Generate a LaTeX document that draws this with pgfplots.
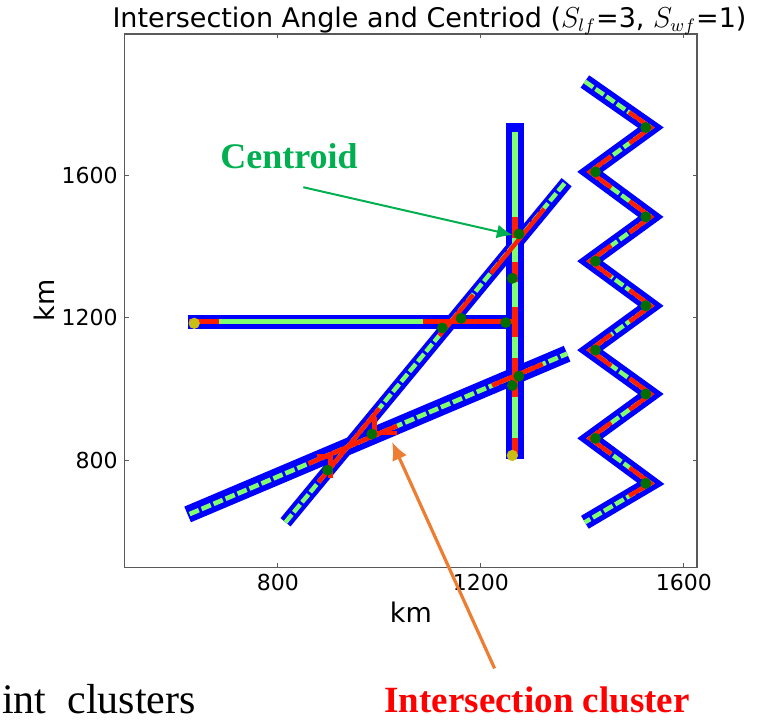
\documentclass[border=0pt]{standalone}
\usepackage{pgfplots}
\pgfplotsset{compat=1.18}
\usepackage{fontspec}
\setmainfont{DejaVu Sans}
\newfontfamily\tnr{Liberation Serif}
\usetikzlibrary{arrows.meta}

\definecolor{jetblue}{RGB}{0,0,255}
\definecolor{jetgreen}{RGB}{130,255,110}
\definecolor{jetred}{RGB}{255,30,0}
\definecolor{cgreen}{RGB}{0,110,0}
\definecolor{cyellow}{RGB}{200,190,20}
\definecolor{pptgreen}{RGB}{0,176,80}
\definecolor{pptorange}{RGB}{237,125,49}

\begin{document}
\begin{tikzpicture}
\begin{axis}[
  at={(0,0)}, anchor=south west,
  width=286.15pt, height=266.65pt, scale only axis,
  xmin=498, xmax=1626, ymin=502, ymax=1995,
  xtick={800,1200,1600}, ytick={800,1200,1600},
  tick align=inside, major tick length=2pt,
  axis line style={black!65, line width=0.6pt},
  tick style={black!65, line width=0.5pt},
  ticklabel style={font=\fontsize{11}{13}\selectfont},
  /pgf/number format/assume math mode=true,
  /pgf/number format/1000 sep={},
  xlabel={km}, ylabel={km},
  label style={font=\fontsize{13.5}{16}\selectfont},
  xlabel style={at={(axis description cs:0.5,-0.1026)}, anchor=base},
  ylabel style={at={(axis description cs:-0.1218,0.5)}, anchor=base},
  clip=false,
  unbounded coords=jump,
]
% blue bands
\addplot[jetblue, line width=9pt, no markers] coordinates {(1268,806) (1268,1745)};
\addplot[jetblue, line width=7pt, no markers] coordinates {(622,1190) (1268,1190)};
\addplot[jetblue, line width=6.5pt, no markers] coordinates {(815,628) (1369,1580)};
\addplot[jetblue, line width=8.5pt, no markers] coordinates {(622,650) (1370,1100)};
\addplot[jetblue, line width=7.5pt, no markers, line join=miter] coordinates {
  (1405,1862) (1535,1733) (1415,1609) (1535,1483) (1415,1359) (1535,1234)
  (1415,1110) (1535,987) (1415,863) (1535,737) (1405,628)};

% inner lines
\addplot[jetgreen, line width=3pt, no markers] coordinates {(1267,810) (1267,1722)};
\addplot[jetgreen, line width=2.2pt, no markers] coordinates {(625,1190) (1268,1190)};
\addplot[jetgreen, line width=2.2pt, no markers, dash pattern=on 5pt off 1.5pt] coordinates {(815,628) (1369,1584)};
\addplot[jetgreen, line width=2.3pt, no markers, dash pattern=on 5pt off 1.5pt] coordinates {(626,651) (1370,1100)};
\addplot[jetgreen, line width=2.2pt, no markers, line join=miter, dash pattern=on 5pt off 1.5pt] coordinates {
  (1405,1862) (1535,1733) (1415,1609) (1535,1483) (1415,1359) (1535,1234)
  (1415,1110) (1535,987) (1415,863) (1535,737) (1405,628)};

% red parts of the inner lines
\addplot[jetred, line width=3pt, no markers] coordinates {
  (1267,810) (1267,863) (nan,nan) (1267,979) (1267,1087) (nan,nan)
  (1267,1147) (1267,1231) (nan,nan) (1267,1301) (1267,1357) (nan,nan)
  (1267,1423) (1267,1483)};
\addplot[jetred, line width=2.2pt, no markers] coordinates {
  (625,1190) (684,1190) (nan,nan) (1085,1190) (1268,1190)};
\addplot[jetred, line width=2.2pt, no markers] coordinates {
  (880,740) (1000,947) (nan,nan) (1118,1150) (1185,1265) (nan,nan)
  (1220,1325) (1325,1506)};
\addplot[jetred, line width=2.3pt, no markers] coordinates {
  (860,792) (1035,898) (nan,nan) (1222,1011) (1322,1071)};
\addplot[jetred, line width=2.4pt, no markers] coordinates {
  (877,812) (904,812) (904,752) (nan,nan) (990,922) (990,878) (1034,878)};
\addplot[jetred, line width=2.2pt, no markers, line join=miter] coordinates {
  (1492,1776) (1535,1733) (1493,1689) (nan,nan)
  (1457,1653) (1415,1609) (1457,1565) (nan,nan)
  (1493,1527) (1535,1483) (1493,1439) (nan,nan)
  (1457,1403) (1415,1359) (1457,1315) (nan,nan)
  (1493,1278) (1535,1234) (1493,1190) (nan,nan)
  (1457,1154) (1415,1110) (1457,1066) (nan,nan)
  (1493,1031) (1535,987) (1493,943) (nan,nan)
  (1457,907) (1415,863) (1457,819) (nan,nan)
  (1493,781) (1535,737) (1492,702)};

% centroids and end points
\addplot[only marks, mark=*, mark size=2.5pt, cgreen] coordinates {
  (1124,1172) (1161,1199) (1249,1187) (1275,1435) (1262,1311) (1275,1037)
  (1262,1011) (898,774) (985,875) (1525,1733) (1426,1609) (1525,1483)
  (1426,1359) (1525,1234) (1426,1110) (1525,987) (1426,863) (1525,737)};
\addplot[only marks, mark=*, mark size=2.6pt, cyellow] coordinates {
  (635,1185) (1262,815)};

% title and annotations
\node[anchor=base west, inner sep=0, font=\fontsize{13.5}{16}\selectfont]
  at (axis description cs:-0.022,1.013) {Intersection Angle and Centriod ($S_{lf}$=3, $S_{wf}$=1)};
\draw[pptgreen, line width=1pt, -{Latex[length=8pt,width=7pt]}]
  (axis cs:850,1566) -- (axis cs:1263,1432);
\draw[pptorange, line width=1.6pt, -{Latex[length=9pt,width=8pt]}]
  (axis cs:1227,219) -- (axis cs:1025,853);
\node[anchor=base, inner sep=0, text=pptgreen, font=\tnr\bfseries\fontsize{18}{20}\selectfont]
  at (axis cs:822,1619) {Centroid};
\node[anchor=base, inner sep=0, text=red, font=\tnr\bfseries\fontsize{18.5}{21}\selectfont]
  at (axis cs:1311,95) {Intersection cluster};
\node[anchor=base west, inner sep=0, font=\tnr\fontsize{21}{24}\selectfont]
  at (axis cs:256,92) {int\ \ clusters};
\end{axis}
\pgfresetboundingbox
\path[use as bounding box] (-62.35pt,-76.85pt) rectangle (320.65pt,283.65pt);
\end{tikzpicture}
\end{document}
